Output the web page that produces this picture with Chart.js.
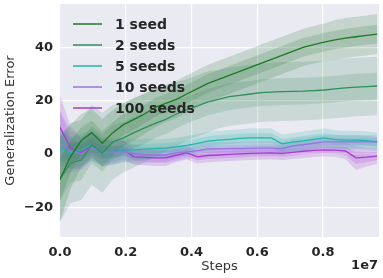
<!DOCTYPE html>
<html>
<head>
<meta charset="utf-8">
<script src="https://cdn.jsdelivr.net/npm/chart.js@4"></script>
<style>
  body { margin: 0; background: #fff; }
</style>
</head>
<body>
<canvas id="errChart" width="383" height="278"></canvas>
<script>
// x positions (training steps)
const steps = [0, 321500, 643000, 964500, 1286000, 1607500, 1929000, 2250500, 2572000, 2893500,
    3215000, 3536500, 3858000, 4179500, 4501000, 4822500, 5144000, 5465500, 5787000, 6108500,
    6430000, 6751500, 7073000, 7394500, 7716000, 8037500, 8359000, 8680500, 9002000, 9323500, 9645000];
const seriesNames = ['1 seed', '2 seeds', '5 seeds', '10 seeds', '100 seeds'];
const xTicks = [0, 2e6, 4e6, 6e6, 8e6];
const yTicks = [-20, 0, 20, 40];

// mean curves
const seed1 = [-9.5, -1, 5, 8, 4, 8, 11, 13, 15, 17.5, 19, 20.5, 22.5, 24.5, 26.5, 28, 29.5, 31, 32.5, 34,
    35.5, 37, 38.5, 40, 41, 42, 42.8, 43.5, 44, 44.5, 45];
const seed2 = [-9.5, -3.4, -2.3, 3.4, 0.4, 4.5, 6, 8, 9.8, 11.5, 13, 15, 16.5, 18, 19.5, 20.5, 21.5, 22, 22.5, 23,
    23.2, 23.4, 23.5, 23.6, 23.8, 24, 24.4, 24.8, 25.1, 25.3, 25.5];
const seed5 = [2.6, 0.4, 1.5, 3.4, 0.8, 0.8, 1.5, 1.5, 1.8, 2, 2.2, 2.6, 3.2, 4, 4.8, 5.2, 5.5, 5.8, 6, 6,
    6, 3.8, 4.4, 4.9, 5.5, 6, 5.4, 5.2, 5.2, 5, 4.5];
const seed10 = [4, 1, 0, 2.5, 0.5, 0.5, 1, 0, -0.4, -0.4, -0.4, 0.4, 0.8, 1.2, 1.9, 1.9, 2, 2, 2.1, 2.2,
    2.2, 1.9, 3, 3.5, 4, 4.5, 4.5, 4.5, 4.5, 4.5, 4.5];
const seed100 = [10, 2.2, 0.4, 3.4, 0.8, 0.8, 1.5, -1.1, -1.3, -1.5, -1.5, -0.5, 0.4, -1.1, -0.6, -0.4, -0.2, 0, 0.2, 0.3,
    0.4, 0.2, 0.6, 1, 1.3, 1.5, 1.4, 1.1, -1.5, -1.2, -0.8];

// band half widths (outer / inner)
const seed1Outer = [16, 12, 10, 9, 9, 8.5, 8, 8, 7.5, 7.5, 7, 7, 7, 7, 7, 7, 7, 7, 7, 7, 7, 7, 7, 7, 7, 7, 7.5, 7.5, 7.5, 7.5, 7.5];
const seed1Inner = [8, 6, 5, 4.5, 4.5, 4, 4, 4, 3.5, 3.5, 3.5, 3.5, 3.5, 3.5, 3.5, 3.5, 3.5, 3.5, 3.5, 3.5, 3.5, 3.5, 3.5, 3.5, 3.5, 3.5, 3.5, 3.5, 3.5, 3.5, 3.5];
const seed2Outer = [16, 15, 15, 15, 15, 14, 13, 13, 13, 12.5, 12, 12, 11.5, 11.5, 11.5, 11, 11, 11, 11, 11, 11, 11, 11, 11, 11, 11, 11, 11, 11, 11, 11];
const seed2Inner = [8, 7.5, 7.5, 7, 7, 6.5, 6, 6, 6, 5.5, 5.5, 5.5, 5, 5, 5, 5, 5, 5, 5, 5, 5, 5, 5, 5, 5, 5, 5, 5, 5, 5, 5];
const seed5Outer = [7, 6, 6, 6, 5.5, 5, 4.5, 4, 4, 3.5, 3.5, 3.5, 3.5, 3.5, 3.5, 3.5, 3.5, 3.5, 3.5, 3.5, 3.5, 3.5, 3.5, 3.5, 3.5, 3.5, 3.5, 3.5, 3.5, 3.5, 3.5];
const seed5Inner = [3.5, 3, 3, 3, 2.5, 2.5, 2.2, 2, 2, 1.8, 1.8, 1.8, 1.8, 1.8, 1.8, 1.8, 1.8, 1.8, 1.8, 1.8, 1.8, 1.8, 1.8, 1.8, 1.8, 1.8, 1.8, 1.8, 1.8, 1.8, 1.8];
const seed10Outer = [12, 8, 6, 5, 5, 4.5, 4, 3.5, 3, 3, 3, 3, 2.5, 2.5, 2.5, 2.5, 2.5, 2.5, 2.5, 2.5, 2.5, 2.5, 2.5, 2.5, 2.5, 2.5, 2.5, 2.5, 2.5, 2.5, 2.5];
const seed10Inner = [6, 4, 3, 2.5, 2.5, 2.2, 2, 1.8, 1.5, 1.5, 1.5, 1.5, 1.3, 1.3, 1.3, 1.3, 1.3, 1.3, 1.3, 1.3, 1.3, 1.3, 1.3, 1.3, 1.3, 1.3, 1.3, 1.3, 1.3, 1.3, 1.3];
const seed100Outer = [12, 8, 6, 5, 4.5, 4, 3.5, 3, 3, 3, 3, 2.5, 2.5, 2.5, 2.5, 2.5, 2.5, 2.5, 2.5, 2.5, 2.5, 2.5, 2.5, 2.5, 2.5, 2.5, 2.5, 3, 4.5, 3.5, 3];
const seed100Inner = [6, 4, 3, 2.5, 2.2, 2, 1.8, 1.5, 1.5, 1.5, 1.5, 1.3, 1.3, 1.3, 1.3, 1.3, 1.3, 1.3, 1.3, 1.3, 1.3, 1.3, 1.3, 1.3, 1.3, 1.3, 1.3, 1.5, 2.3, 1.8, 1.5];

const means = [seed1, seed2, seed5, seed10, seed100];
const outers = [seed1Outer, seed2Outer, seed5Outer, seed10Outer, seed100Outer];
const inners = [seed1Inner, seed2Inner, seed5Inner, seed10Inner, seed100Inner];
const lineColors = ['#1c7a24', '#2e8f5a', '#26b5a8', '#9b72e0', '#a43dd2'];
const bandColors = ['rgba(50,125,60,0.2)', 'rgba(60,140,95,0.18)', 'rgba(38,181,168,0.2)',
    'rgba(155,114,224,0.2)', 'rgba(164,61,210,0.2)'];

function pts(arr, off, sign) {
    return arr.map((v, i) => ({ x: steps[i], y: v + sign * (off ? off[i] : 0) }));
}

const datasets = [];
means.forEach((m, k) => {
    datasets.push({
        label: seriesNames[k], data: pts(m, null, 0), borderColor: lineColors[k],
        borderWidth: 1.3, pointRadius: 0, fill: false, order: 0
    });
});
means.forEach((m, k) => {
    [outers[k], inners[k]].forEach(w => {
        datasets.push({ data: pts(m, w, 1), borderWidth: 0, pointRadius: 0,
            backgroundColor: bandColors[k], fill: '+1', order: 1 });
        datasets.push({ data: pts(m, w, -1), borderWidth: 0, pointRadius: 0,
            fill: false, order: 1 });
    });
});

const plotBg = {
    id: 'plotBg',
    beforeDraw(chart) {
        const { ctx, chartArea: a } = chart;
        ctx.save();
        ctx.fillStyle = '#eaeaf2';
        ctx.fillRect(a.left, a.top, a.right - a.left, a.bottom - a.top);
        ctx.restore();
    }
};

const legendBox = {
    id: 'legendBox',
    afterDraw(chart) {
        const ctx = chart.ctx;
        ctx.save();
        ctx.font = 'bold 14px "DejaVu Sans"';
        ctx.textBaseline = 'middle';
        seriesNames.forEach((name, k) => {
            const y = 24 + k * 21;
            ctx.strokeStyle = lineColors[k];
            ctx.lineWidth = 1.5;
            ctx.beginPath();
            ctx.moveTo(73, y);
            ctx.lineTo(102, y);
            ctx.stroke();
            ctx.fillStyle = '#262626';
            ctx.fillText(name, 115, y + 1);
        });
        // offset label of the x axis
        ctx.font = 'bold 13px "DejaVu Sans"';
        ctx.textAlign = 'right';
        ctx.fillText('1e7', 378, 266);
        ctx.restore();
    }
};

const tickFont = { family: 'DejaVu Sans', size: 13, weight: 'bold' };
const titleFont = { family: 'DejaVu Sans', size: 13 };

new Chart(document.getElementById('errChart').getContext('2d'), {
    type: 'line',
    data: { datasets: datasets },
    options: {
        responsive: false,
        animation: false,
        devicePixelRatio: 1,
        layout: { padding: { top: 4, right: 4, left: 0, bottom: 0 } },
        plugins: { legend: { display: false }, tooltip: { enabled: false } },
        scales: {
            x: {
                type: 'linear', min: 0, max: 9.7e6,
                afterBuildTicks: axis => { axis.ticks = xTicks.map(v => ({ value: v })); },
                afterFit: axis => { axis.height = 41; },
                ticks: {
                    font: tickFont, color: '#262626', padding: 8, autoSkip: false, maxRotation: 0,
                    callback: v => (v / 1e7).toFixed(1)
                },
                grid: { color: '#ffffff', lineWidth: 1.2, drawTicks: false },
                border: { display: false },
                title: { display: true, text: 'Steps', font: titleFont, color: '#333333', padding: { top: 0, bottom: 4 } }
            },
            y: {
                min: -31.2, max: 56.3,
                afterBuildTicks: axis => { axis.ticks = yTicks.map(v => ({ value: v })); },
                afterFit: axis => {
                    axis.width = 60;
                    axis.paddingTop = 0;
                    axis.paddingBottom = 0;
                },
                ticks: {
                    font: tickFont, color: '#262626', padding: 7,
                    callback: v => (v < 0 ? '\u2212' + Math.abs(v) : String(v))
                },
                grid: { color: '#ffffff', lineWidth: 1.2, drawTicks: false },
                border: { display: false },
                title: { display: true, text: 'Generalization Error', font: titleFont, color: '#333333', padding: { top: 3, bottom: 0 } }
            }
        }
    },
    plugins: [plotBg, legendBox]
});
</script>
</body>
</html>
